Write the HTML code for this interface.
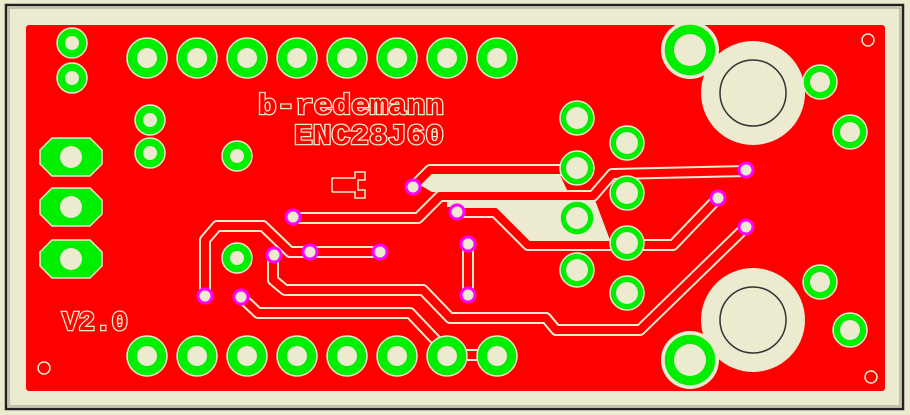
<!DOCTYPE html>
<html><head><meta charset="utf-8"><style>
html,body{margin:0;padding:0;background:#ECEACF;}
svg{display:block}
</style></head><body>
<svg width="910" height="415" viewBox="0 0 910 415" xmlns="http://www.w3.org/2000/svg">
<rect x="0" y="0" width="910" height="415" fill="#ECEACF"/>
<rect x="6" y="5" width="897" height="404" fill="none" stroke="#222" stroke-width="2.5"/>
<rect x="9" y="8" width="891" height="398" fill="none" stroke="#9a9a8a" stroke-width="1"/>
<rect x="26" y="25" width="859" height="366" rx="3" fill="#FF0000"/>
<g fill="#ECEACF">
<circle cx="753" cy="93" r="52"/>
<circle cx="753" cy="320" r="52"/>
<circle cx="690" cy="50" r="29"/>
<circle cx="690" cy="360" r="29"/>
<polygon points="425,175 560,175 568,192 432,192 420,185"/>
<polygon points="447,200 595,200 610,240 528,240 498,207 447,207"/>
</g>
<circle cx="753" cy="93" r="33" fill="none" stroke="#333" stroke-width="1.5"/>
<circle cx="753" cy="320" r="33" fill="none" stroke="#333" stroke-width="1.5"/>
<g fill="none" stroke-linejoin="round">
<g stroke="#ECEACF" stroke-width="12">
<polyline points="413,187 430,170 577,170"/>
<polyline points="293,218 418,218 440,196 593,196 612,174 746,171"/>
<polyline points="457,212 495,212 528,245 673,245 718,198"/>
<polyline points="310,252 380,252"/>
<polyline points="468,244 468,295"/>
<polyline points="205,296 205,240 217,226 263,226 290,252 310,252"/>
<polyline points="273,255 273,280 285,290 423,290 450,318 546,318 556,330 640,330 746,227"/>
<polyline points="241,297 258,313 410,313 447,352"/>
<polyline points="447,355 497,355"/>
</g>
<g stroke="#FF0000" stroke-width="8">
<polyline points="413,187 430,170 577,170"/>
<polyline points="293,218 418,218 440,196 593,196 612,174 746,171"/>
<polyline points="457,212 495,212 528,245 673,245 718,198"/>
<polyline points="310,252 380,252"/>
<polyline points="468,244 468,295"/>
<polyline points="205,296 205,240 217,226 263,226 290,252 310,252"/>
<polyline points="273,255 273,280 285,290 423,290 450,318 546,318 556,330 640,330 746,227"/>
<polyline points="241,297 258,313 410,313 447,352"/>
<polyline points="447,355 497,355"/>
</g>
</g>
<path d="M332,178 H355 V172 H365 V180 H358 V186 M332,192 H355 V198 H365 V190 H358 V186 M332,178 V192" fill="none" stroke="#ECEACF" stroke-width="1.5"/>
<g fill="#00EE00" stroke="#ECEACF" stroke-width="1.5">
<circle cx="147" cy="58" r="20"/><circle cx="197" cy="58" r="20"/><circle cx="247" cy="58" r="20"/><circle cx="297" cy="58" r="20"/><circle cx="347" cy="58" r="20"/><circle cx="397" cy="58" r="20"/><circle cx="447" cy="58" r="20"/><circle cx="497" cy="58" r="20"/>
<circle cx="147" cy="356" r="20"/><circle cx="197" cy="356" r="20"/><circle cx="247" cy="356" r="20"/><circle cx="297" cy="356" r="20"/><circle cx="347" cy="356" r="20"/><circle cx="397" cy="356" r="20"/><circle cx="447" cy="356" r="20"/><circle cx="497" cy="356" r="20"/>
<circle cx="72" cy="43" r="15"/><circle cx="72" cy="78" r="15"/>
<circle cx="150" cy="120" r="15"/><circle cx="150" cy="153" r="15"/>
<circle cx="237" cy="156" r="15"/><circle cx="237" cy="258" r="15"/>
<polygon points="52,138 90,138 102,150 102,164 90,176 52,176 40,164 40,150"/>
<polygon points="52,188 90,188 102,200 102,214 90,226 52,226 40,214 40,200"/>
<polygon points="52,240 90,240 102,252 102,266 90,278 52,278 40,266 40,252"/>
<circle cx="577" cy="118" r="17"/><circle cx="577" cy="168" r="17"/><circle cx="577" cy="218" r="17"/><circle cx="577" cy="270" r="17"/>
<circle cx="627" cy="143" r="17"/><circle cx="627" cy="193" r="17"/><circle cx="627" cy="243" r="17"/><circle cx="627" cy="293" r="17"/>
<circle cx="690" cy="50" r="26"/><circle cx="690" cy="360" r="26"/>
<circle cx="820" cy="82" r="17"/><circle cx="850" cy="132" r="17"/><circle cx="820" cy="282" r="17"/><circle cx="850" cy="330" r="17"/>
</g>
<g fill="#ECEACF">
<circle cx="147" cy="58" r="10"/><circle cx="197" cy="58" r="10"/><circle cx="247" cy="58" r="10"/><circle cx="297" cy="58" r="10"/><circle cx="347" cy="58" r="10"/><circle cx="397" cy="58" r="10"/><circle cx="447" cy="58" r="10"/><circle cx="497" cy="58" r="10"/>
<circle cx="147" cy="356" r="10"/><circle cx="197" cy="356" r="10"/><circle cx="247" cy="356" r="10"/><circle cx="297" cy="356" r="10"/><circle cx="347" cy="356" r="10"/><circle cx="397" cy="356" r="10"/><circle cx="447" cy="356" r="10"/><circle cx="497" cy="356" r="10"/>
<circle cx="72" cy="43" r="7"/><circle cx="72" cy="78" r="7"/>
<circle cx="150" cy="120" r="7"/><circle cx="150" cy="153" r="7"/>
<circle cx="237" cy="156" r="7"/><circle cx="237" cy="258" r="7"/>
<circle cx="71" cy="157" r="11"/><circle cx="71" cy="207" r="11"/><circle cx="71" cy="259" r="11"/>
<circle cx="577" cy="118" r="11"/><circle cx="577" cy="168" r="11"/><circle cx="577" cy="218" r="11"/><circle cx="577" cy="270" r="11"/>
<circle cx="627" cy="143" r="11"/><circle cx="627" cy="193" r="11"/><circle cx="627" cy="243" r="11"/><circle cx="627" cy="293" r="11"/>
<circle cx="690" cy="50" r="16"/><circle cx="690" cy="360" r="16"/>
<circle cx="820" cy="82" r="10"/><circle cx="850" cy="132" r="10"/><circle cx="820" cy="282" r="10"/><circle cx="850" cy="330" r="10"/>
</g>
<g fill="#ECEACF" stroke="#FF00FF" stroke-width="3">
<circle cx="413" cy="187" r="7"/><circle cx="293" cy="217" r="7"/><circle cx="457" cy="212" r="7"/>
<circle cx="310" cy="252" r="7"/><circle cx="380" cy="252" r="7"/><circle cx="468" cy="244" r="7"/><circle cx="468" cy="295" r="7"/>
<circle cx="274" cy="255" r="7"/><circle cx="205" cy="296" r="7"/><circle cx="241" cy="297" r="7"/>
<circle cx="746" cy="170" r="7"/><circle cx="718" cy="198" r="7"/><circle cx="746" cy="227" r="7"/>
</g>
<g fill="#FF0000" stroke="#ECEACF" stroke-width="1.5">
<circle cx="868" cy="40" r="6"/><circle cx="871" cy="377" r="6"/><circle cx="44" cy="368" r="6"/>
</g>
<g font-family="Liberation Mono, monospace" font-weight="bold" fill="#FF0000" stroke="#ECEACF" stroke-width="2.5" paint-order="stroke">
<text x="258" y="114" font-size="29" textLength="186" lengthAdjust="spacingAndGlyphs">b-redemann</text>
<text x="294" y="144" font-size="29" textLength="150" lengthAdjust="spacingAndGlyphs">ENC28J60</text>
<text x="62" y="330" font-size="27" textLength="66" lengthAdjust="spacingAndGlyphs">V2.0</text>
</g>
</svg>
</body></html>
